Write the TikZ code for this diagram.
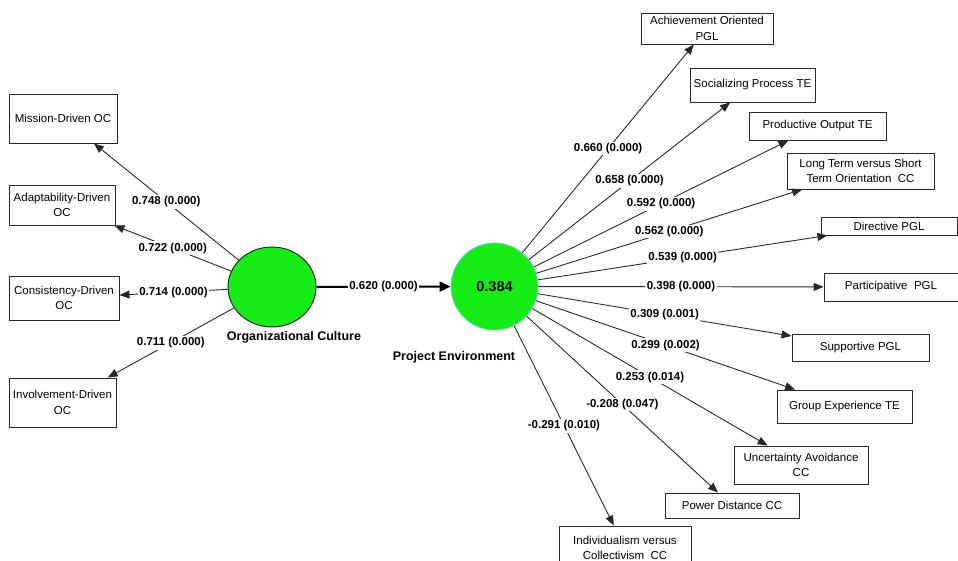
\documentclass[tikz,border=0pt]{standalone}
\usepackage{fontspec}
\setmainfont{Liberation Sans}
\usetikzlibrary{arrows.meta,shapes.geometric}

\definecolor{latent}{RGB}{20,238,20}
\definecolor{rim}{RGB}{110,200,235}
\definecolor{wire}{RGB}{40,40,40}

\tikzset{
  ind/.style={draw=wire,line width=0.9pt,fill=white,align=center,inner sep=0pt,
    font=\fontsize{11.5}{15.5}\selectfont},
  load/.style={draw=wire,line width=0.9pt,-{Triangle[length=10pt,width=8pt]}},
  coef/.style={fill=white,inner sep=1.5pt,font=\fontsize{11.5}{13}\selectfont\bfseries},
  lvname/.style={font=\fontsize{12.5}{14}\selectfont\bfseries},
}

\begin{document}
\begin{tikzpicture}
\begin{scope}[x=1pt,y=-1pt]
\useasboundingbox (0,0) rectangle (958,561);

% latent variables
\node[ellipse,draw=wire,line width=1pt,fill=latent,minimum width=88pt,minimum height=80pt] (oc) at (272,287) {};
\node[circle,draw=rim,line width=0.8pt,fill=latent,minimum size=87pt,
  font=\fontsize{14.5}{16}\selectfont\bfseries] (pe) at (494.5,286.5) {0.384};
\node[lvname] (ocname) at (294,337) {Organizational Culture};
\node[lvname] (pename) at (454,357) {Project Environment};

% indicators of organizational culture
\node[ind,minimum width=108pt,minimum height=49pt] (mis) at (63,118.5)  {Mission-Driven OC};
\node[ind,minimum width=106pt,minimum height=40pt] (ada) at (62,205)    {Adaptability-Driven\\OC};
\node[ind,minimum width=110pt,minimum height=44pt] (con) at (64,298)    {Consistency-Driven\\OC};
\node[ind,minimum width=107pt,minimum height=49pt] (inv) at (62.5,402.5) {Involvement-Driven\\OC};

% indicators of project environment
\node[ind,minimum width=132pt,minimum height=31pt] (ach) at (707,28.5)   {Achievement Oriented\\PGL};
\node[ind,minimum width=125pt,minimum height=34pt] (soc) at (752.5,85)   {Socializing Process TE};
\node[ind,minimum width=137pt,minimum height=28pt] (pro) at (817.5,126)  {Productive Output TE};
\node[ind,minimum width=147pt,minimum height=36pt] (lto) at (860.5,171)  {Long Term versus Short\\Term Orientation\ \ CC};
\node[ind,minimum width=136pt,minimum height=18pt] (dir) at (889,226)    {Directive PGL};
\node[ind,minimum width=134pt,minimum height=28pt] (par) at (891,287)    {Participative\ \ PGL};
\node[ind,minimum width=137pt,minimum height=27pt] (sup) at (860.5,347.5) {Supportive PGL};
\node[ind,minimum width=135pt,minimum height=33pt] (grp) at (844.5,406.5) {Group Experience TE};
\node[ind,minimum width=134pt,minimum height=38pt] (unc) at (801,465)    {Uncertainty Avoidance\\CC};
\node[ind,minimum width=134pt,minimum height=25pt] (pow) at (732,505.5)  {Power Distance CC};
\node[ind,minimum width=132pt,minimum height=44pt] (idv) at (625,548)    {Individualism versus\\Collectivism\ \ CC};

% outer loadings
\draw[load] (oc) -- node[coef] {0.748 (0.000)} (mis);
\draw[load] (oc) -- node[coef] {0.722 (0.000)} (ada);
\draw[load] (oc) -- node[coef] {0.714 (0.000)} (con);
\draw[load] (oc) -- node[coef] {0.711 (0.000)} (inv);

\draw[load] (pe) -- node[coef] {0.660 (0.000)} (ach);
\draw[load] (pe) -- node[coef] {0.658 (0.000)} (soc);
\draw[load] (pe) -- node[coef] {0.592 (0.000)} (pro);
\draw[load] (pe) -- node[coef] {0.562 (0.000)} (lto);
\draw[load] (pe) -- node[coef] {0.539 (0.000)} (dir);
\draw[load] (pe) -- node[coef] {0.398 (0.000)} (par);
\draw[load] (pe) -- node[coef] {0.309 (0.001)} (sup);
\draw[load] (pe) -- node[coef] {0.299 (0.002)} (grp);
\draw[load] (pe) -- node[coef] {0.253 (0.014)} (unc);
\draw[load] (pe) -- node[coef] {-0.208 (0.047)} (pow);
\draw[load] (pe) -- node[coef] {-0.291 (0.010)} (idv);

% path coefficient
\draw[draw=black,line width=2pt,-{Triangle[length=11pt,width=10pt]}] (oc) -- node[coef] {0.620 (0.000)} (pe);

\end{scope}
\end{tikzpicture}
\end{document}
